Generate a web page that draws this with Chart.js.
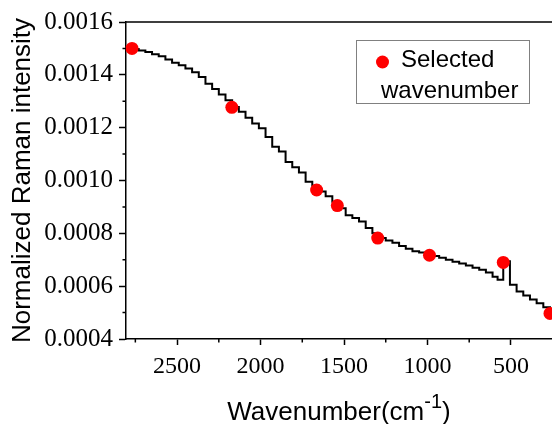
<!DOCTYPE html>
<html>
<head>
<meta charset="utf-8">
<script src="https://cdn.jsdelivr.net/npm/chart.js@4.4.0/dist/chart.umd.min.js"></script>
<style>
    html, body { margin: 0; padding: 0; background: #fff; }
    #wrap { width: 552px; height: 424px; }
</style>
</head>
<body>
<div id="wrap"><canvas id="ramanChart" width="552" height="424"></canvas></div>
<script>
// spectrum (stepped), wavenumber in cm-1
const waveNumbers = [2770, 2730, 2690, 2650, 2610, 2570, 2530, 2490, 2450, 2410,
    2370, 2330, 2290, 2250, 2210, 2170, 2130, 2090, 2050, 2010,
    1970, 1930, 1890, 1850, 1810, 1770, 1730, 1690, 1650, 1610,
    1570, 1530, 1490, 1450, 1410, 1370, 1330, 1290, 1250, 1210,
    1170, 1130, 1090, 1050, 1010, 970, 930, 890, 850, 810,
    770, 730, 690, 650, 610, 580, 546, 506, 466, 426,
    386, 346, 306, 266, 250];
const intensity = [0.001498, 0.001492, 0.001486, 0.001478, 0.00147, 0.001458, 0.001446, 0.001436, 0.001424, 0.00141,
    0.001392, 0.001366, 0.001346, 0.001326, 0.001304, 0.001278, 0.00126, 0.001238, 0.001216, 0.001198,
    0.001165, 0.001128, 0.00111, 0.00107, 0.00105, 0.00103, 0.000995, 0.00098, 0.000958, 0.00094,
    0.00092, 0.000895, 0.000868, 0.000858, 0.000845, 0.00082, 0.0008, 0.000782, 0.000773, 0.000764,
    0.000752, 0.000742, 0.000732, 0.000727, 0.00072, 0.000714, 0.000708, 0.0007, 0.000692, 0.000686,
    0.000678, 0.00067, 0.000662, 0.000652, 0.000636, 0.000624, 0.000694, 0.000605, 0.00058, 0.000565,
    0.00055, 0.000535, 0.00052, 0.000497, 0.00049];

// selected wavenumbers (red dots)
const selectedX = [2770, 2172, 1664, 1540, 1298, 988, 546, 266];
const selectedY = [0.0015, 0.001277, 0.000964, 0.000905, 0.000782, 0.000717, 0.00069, 0.000497];

const xTicks = [2500, 2000, 1500, 1000, 500];
const xMinorTicks = [2750, 2250, 1750, 1250, 750];
const yTicks = [0.0004, 0.0006, 0.0008, 0.0010, 0.0012, 0.0014, 0.0016];
const yMinorTicks = [0.0005, 0.0007, 0.0009, 0.0011, 0.0013, 0.0015];

const sans = "'Liberation Sans', Arial, sans-serif";
const serif = "'Liberation Serif', 'Times New Roman', serif";

// minor ticks, top frame line, legend box and x title
const extras = {
    id: 'extras',
    afterDraw(chart) {
        const ctx = chart.ctx;
        const area = chart.chartArea;
        const sx = chart.scales.x;
        const sy = chart.scales.y;
        ctx.save();
        ctx.strokeStyle = '#000';
        ctx.lineWidth = 1.5;
        ctx.beginPath();
        ctx.moveTo(area.left, area.top);
        ctx.lineTo(area.right, area.top);
        xMinorTicks.forEach(v => {
            const px = sx.getPixelForValue(v);
            ctx.moveTo(px, area.bottom);
            ctx.lineTo(px, area.bottom + 3.5);
        });
        yMinorTicks.forEach(v => {
            const py = sy.getPixelForValue(v);
            ctx.moveTo(area.left, py);
            ctx.lineTo(area.left - 3.5, py);
        });
        ctx.stroke();

        // legend
        ctx.lineWidth = 1;
        ctx.strokeStyle = '#808080';
        ctx.strokeRect(356.5, 40.5, 173, 63);
        ctx.fillStyle = '#ff0000';
        ctx.beginPath();
        ctx.arc(382.5, 62, 6.5, 0, Math.PI * 2);
        ctx.fill();
        ctx.fillStyle = '#000';
        ctx.font = '24px ' + sans;
        ctx.textBaseline = 'alphabetic';
        ctx.textAlign = 'left';
        ctx.fillText('Selected', 401, 67);
        ctx.fillText('wavenumber', 381, 98);

        // x axis title with superscript
        const main = 'Wavenumber(cm';
        const sup = '-1';
        ctx.font = '26px ' + sans;
        const w1 = ctx.measureText(main).width;
        const w3 = ctx.measureText(')').width;
        ctx.font = '20px ' + sans;
        const w2 = ctx.measureText(sup).width;
        let x0 = (area.left + area.right) / 2 - (w1 + w2 + w3) / 2;
        ctx.font = '26px ' + sans;
        ctx.fillText(main, x0, 420);
        ctx.font = '20px ' + sans;
        ctx.fillText(sup, x0 + w1, 408);
        ctx.font = '26px ' + sans;
        ctx.fillText(')', x0 + w1 + w2, 420);
        ctx.restore();
    }
};

const ctx = document.getElementById('ramanChart').getContext('2d');

new Chart(ctx, {
    type: 'line',
    data: {
        datasets: [{
            label: 'Spectrum',
            data: waveNumbers.map((w, i) => ({ x: w, y: intensity[i] })),
            borderColor: '#000',
            borderWidth: 2,
            stepped: true,
            pointRadius: 0,
            fill: false,
            order: 2
        },
        {
            type: 'scatter',
            label: 'Selected wavenumber',
            data: selectedX.map((w, i) => ({ x: w, y: selectedY[i] })),
            backgroundColor: '#ff0000',
            borderWidth: 0,
            pointRadius: 6.5,
            clip: false,
            order: 1
        }]
    },
    options: {
        responsive: false,
        animation: false,
        layout: {
            autoPadding: false,
            padding: { top: 22, right: 0, left: 0, bottom: 0 }
        },
        plugins: {
            legend: { display: false },
            tooltip: { enabled: false }
        },
        scales: {
            x: {
                type: 'linear',
                reverse: true,
                min: 254,
                max: 2806,
                afterBuildTicks: function (scale) {
                    scale.ticks = xTicks.map(v => ({ value: v }));
                },
                afterFit: function (scale) {
                    scale.height = 85;
                    scale.paddingLeft = 0;
                    scale.paddingRight = 0;
                },
                ticks: {
                    autoSkip: false,
                    maxRotation: 0,
                    padding: 7,
                    color: '#000',
                    font: { family: serif, size: 24 },
                    callback: function (value) {
                        return String(value);
                    }
                },
                grid: {
                    drawOnChartArea: false,
                    tickLength: 6,
                    tickWidth: 1.5,
                    tickColor: '#000'
                },
                border: { color: '#000', width: 1.5 }
            },
            y: {
                min: 0.0004,
                max: 0.0016,
                afterBuildTicks: function (scale) {
                    scale.ticks = yTicks.map(v => ({ value: v }));
                },
                afterFit: function (scale) {
                    scale.width = 126;
                },
                ticks: {
                    autoSkip: false,
                    padding: 6,
                    color: '#000',
                    font: { family: serif, size: 25 },
                    callback: function (value) {
                        return value.toFixed(4);
                    }
                },
                grid: {
                    drawOnChartArea: false,
                    tickLength: 7,
                    tickWidth: 1.5,
                    tickColor: '#000'
                },
                border: { color: '#000', width: 1.5 },
                title: {
                    display: true,
                    text: 'Normalized Raman intensity',
                    color: '#000',
                    font: { family: sans, size: 26 },
                    padding: { top: 7, bottom: 0 }
                }
            }
        }
    },
    plugins: [extras]
});
</script>
</body>
</html>
